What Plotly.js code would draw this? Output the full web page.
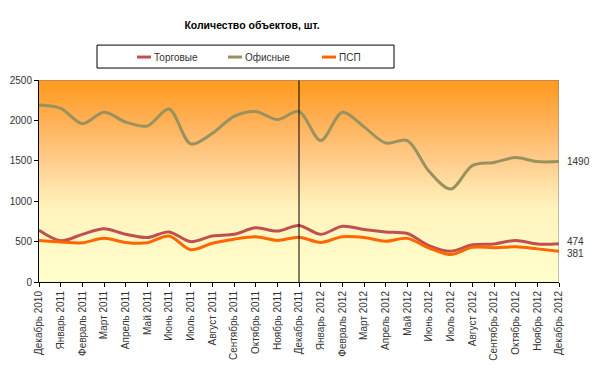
<!DOCTYPE html>
<html>
<head>
<meta charset="utf-8">
<script src="https://cdn.plot.ly/plotly-3.0.1.min.js"></script>
<style>html,body{margin:0;padding:0;background:#fff;}#chart{width:600px;height:368px;}</style>
</head>
<body>
<div id="chart"></div>
<script>
const months = ["Декабрь 2010","Январь 2011","Февраль 2011","Март 2011","Апрель 2011","Май 2011","Июнь 2011","Июль 2011","Август 2011","Сентябрь 2011","Октябрь 2011","Ноябрь 2011","Декабрь 2011","Январь 2012","Февраль 2012","Март 2012","Апрель 2012","Май 2012","Июнь 2012","Июль 2012","Август 2012","Сентябрь 2012","Октябрь 2012","Ноябрь 2012","Декабрь 2012"];
const seriesNames = ["Торговые","Офисные","ПСП"];
const trade  = [640,510,590,660,590,550,620,500,570,590,670,630,700,590,690,650,620,600,450,380,460,470,515,470,474];
const office = [2190,2150,1960,2100,1980,1930,2140,1710,1840,2050,2110,2010,2110,1750,2100,1920,1720,1750,1370,1150,1440,1480,1540,1490,1490];
const psp    = [515,495,485,540,490,485,570,400,480,530,560,515,555,490,560,550,505,540,420,340,430,425,435,410,381];
const colors = ["#C0504D","#99925E","#FF6600"];
const yTicks = [0,500,1000,1500,2000,2500];
const dividerMonth = "Декабрь 2011";

const last = months.length - 1;
const yMax = yTicks[yTicks.length-1];

const bg = {
  x:[months[0],months[last],months[last],months[0],months[0]],
  y:[0,0,yMax,yMax,0],
  type:'scatter', mode:'lines', fill:'toself', line:{width:0},
  fillgradient:{type:'vertical', colorscale:[[0,'#FFFFCC'],[0.35,'#FFF3BE'],[0.42,'#FFEBB2'],[0.6,'#FFCC8C'],[0.8,'#FFB055'],[1,'#FF9A1C']]},
  hoverinfo:'skip', showlegend:false
};
const data = [bg];
[trade, office, psp].forEach((vals,i)=>{
  data.push({x:months, y:vals, type:'scatter', mode:'lines', name:seriesNames[i],
    line:{color:colors[i], width:3, shape:'spline', smoothing:0.9}, showlegend:false});
});

const shapes = [
  {type:'line', xref:'x', yref:'y', x0:dividerMonth, x1:dividerMonth, y0:0, y1:yMax, line:{color:'#000', width:1}},
  {type:'line', xref:'x', yref:'y', x0:months[0], x1:months[last], y0:yMax, y1:yMax, line:{color:'#808080', width:1}},
  {type:'line', xref:'x', yref:'y', x0:months[last], x1:months[last], y0:0, y1:yMax, line:{color:'#808080', width:1}},
  {type:'rect', xref:'paper', yref:'paper', x0:(97-39)/520, x1:(394-39)/520, y0:(282.5-68)/202.5, y1:(282.5-45)/202.5, line:{color:'#000', width:1}, fillcolor:'#fff', layer:'above'}
];
const annotations = [];
const legX = [137,228,322];
seriesNames.forEach((n,i)=>{
  shapes.push({type:'line', xref:'paper', yref:'paper', x0:(legX[i]-39)/520, x1:(legX[i]+14-39)/520, y0:(282.5-57)/202.5, y1:(282.5-57)/202.5, line:{color:colors[i], width:3}, layer:'above'});
  annotations.push({xref:'paper', yref:'paper', x:(legX[i]+15-39)/520, y:(282.5-57)/202.5, xanchor:'left', yanchor:'middle', text:n, showarrow:false, font:{size:10, color:'#333', family:'Liberation Sans, Arial, sans-serif'}});
});
const labelShift = [0, 2, -2];
[office, trade, psp].forEach((vals,k)=>{
  annotations.push({x:months[last], y:vals[last], xref:'x', yref:'y', xanchor:'left', yanchor:'middle', xshift:6, yshift:labelShift[k], text:String(vals[last]), showarrow:false, font:{size:10, color:'#333', family:'Liberation Sans, Arial, sans-serif'}});
});

const layout = {
  width:600, height:368,
  margin:{l:39, r:41, t:80, b:85.5, pad:0},
  paper_bgcolor:'#fff', plot_bgcolor:'rgba(0,0,0,0)',
  font:{family:'Liberation Sans, Arial, sans-serif', size:10, color:'#333'},
  title:{text:'<b>Количество объектов, шт.</b>', x:252/600, xanchor:'center', y:1-25/368, yanchor:'middle', font:{size:10.5, color:'#000'}},
  showlegend:false,
  xaxis:{type:'category', categoryorder:'array', categoryarray:months, range:[0,last], showgrid:false, showline:true, linecolor:'#000', linewidth:1,
    ticks:'outside', ticklen:4, tickcolor:'#000', tickangle:-90, tickfont:{size:10, color:'#333'}, zeroline:false, fixedrange:true},
  yaxis:{range:[0,yMax], tickvals:yTicks, showgrid:true, gridcolor:'#000', gridwidth:1, showline:true, linecolor:'#000', linewidth:1,
    ticks:'outside', ticklen:4, tickcolor:'#000', tickfont:{size:10, color:'#333'}, zeroline:false, fixedrange:true},
  shapes:shapes, annotations:annotations
};
Plotly.newPlot('chart', data, layout, {staticPlot:true, displayModeBar:false});
</script>
</body>
</html>
